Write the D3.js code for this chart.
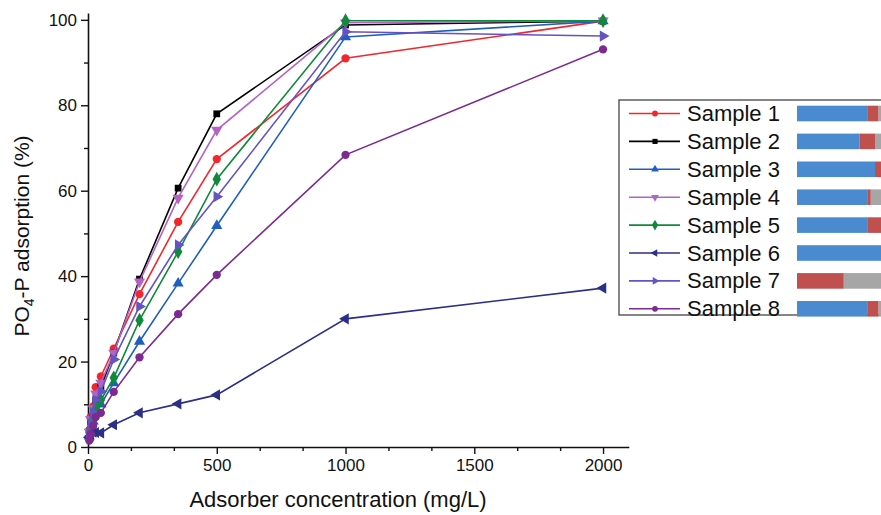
<!DOCTYPE html>
<html><head><meta charset="utf-8">
<script src="https://cdn.jsdelivr.net/npm/d3@7"></script>
<style>
html,body{margin:0;padding:0;background:#fff;}
text{font-family:"Liberation Sans",Arial,sans-serif;fill:#111;}
</style></head>
<body><svg id="c" width="881" height="515"></svg>
<script>
// ---------- data ----------
const concentrations = [5, 10, 20, 30, 50, 100, 200, 350, 500, 1000, 2000];
const sampleNames = ["Sample 1","Sample 2","Sample 3","Sample 4","Sample 5","Sample 6","Sample 7","Sample 8"];
const sample1 = [4, 7, 9.5, 14, 16.5, 23, 35.8, 52.7, 67.4, 91, 99.7];
const sample2 = [3, 6, 8, 11, 14, 22, 39.3, 60.6, 78, 98.8, 99.7];
const sample3 = [2.5, 4, 6, 8, 10, 15, 24.7, 38.3, 51.8, 96, 99.7];
const sample4 = [3.5, 6.5, 9, 12.5, 15, 22, 38.7, 58.3, 74.2, 99.3, 99.8];
const sample5 = [2.5, 4.5, 7, 9, 11, 16.2, 29.7, 45.7, 62.7, 99.8, 99.8];
const sample6 = [2.3, 2.6, 3.5, 3.4, 3.3, 5.2, 8, 10.1, 12.2, 30, 37.2];
const sample7 = [3, 5.5, 8, 11, 13, 20.5, 32.9, 47.3, 58.6, 97.2, 96.2];
const sample8 = [1.5, 3, 5, 7, 8, 12.9, 21, 31.1, 40.3, 68.4, 93.1];
const xMajorTicks = [0, 500, 1000, 1500, 2000];
const yMajorTicks = [0, 20, 40, 60, 80, 100];
// composition bars beside the legend (percent shares)
const barBlue = [58.5, 52, 65, 58.5, 58.5, 100, 0, 58.5];
const barRed  = [9.5, 13.5, 35, 3, 41.5, 0, 39, 9.5];
const barGray = [32, 34.5, 0, 38.5, 0, 0, 61, 32];

const seriesValues = [sample1,sample2,sample3,sample4,sample5,sample6,sample7,sample8];
const colors = ["#f2272c","#000000","#1f5fbf","#b463c4","#0f8a3a","#2c2f86","#6552c4","#7c2a91"];
const markers = [
  {t:d3.symbolCircle, r:0}, {t:d3.symbolSquare, r:0}, {t:d3.symbolTriangle, r:0},
  {t:d3.symbolTriangle, r:180}, {t:d3.symbolDiamond, r:0}, {t:d3.symbolTriangle, r:-90},
  {t:d3.symbolTriangle, r:90}, {t:d3.symbolCircle, r:0}
];
const barColors = ["#4a8bd0","#c0504d","#a6a6a6"];

// ---------- chart ----------
const svg = d3.select("#c");
const x = d3.scaleLinear().domain([0, 2100]).range([88, 628.8]);
const y = d3.scaleLinear().domain([0, 101.6]).range([447, 13]);

// axes
const xAxis = svg.append("g").attr("transform","translate(0,447)")
  .call(d3.axisBottom(x).tickValues(xMajorTicks).tickSize(7).tickSizeOuter(0).tickPadding(5).tickFormat(d3.format("d")));
const xMinor = svg.append("g").attr("transform","translate(0,447)")
  .call(d3.axisBottom(x).tickValues(d3.range(1,13).map(i=>i*500/3).filter(v=>v%500>1 && v%500<499)).tickSize(4).tickSizeOuter(0).tickFormat(""));
const yAxis = svg.append("g").attr("transform","translate(88,0)")
  .call(d3.axisLeft(y).tickValues(yMajorTicks).tickSize(7).tickSizeOuter(0).tickPadding(4));
const yMinor = svg.append("g").attr("transform","translate(88,0)")
  .call(d3.axisLeft(y).tickValues([10,30,50,70,90]).tickSize(4).tickSizeOuter(0).tickFormat(""));
[xAxis,xMinor,yAxis,yMinor].forEach(g=>{
  g.selectAll("path.domain").attr("stroke","#111").attr("stroke-width",1.6);
  g.selectAll(".tick line").attr("stroke","#111").attr("stroke-width",1.4);
  g.selectAll(".tick text").attr("font-size",17).attr("font-family","Liberation Sans, Arial, sans-serif").attr("fill","#111");
});
xMinor.select("path.domain").remove();
yMinor.select("path.domain").remove();

// axis titles
svg.append("text").attr("x",338).attr("y",507).attr("text-anchor","middle")
  .attr("font-size",22).text("Adsorber concentration (mg/L)");
const yt = svg.append("text").attr("transform","translate(29,236) rotate(-90)")
  .attr("text-anchor","middle").attr("font-size",21);
yt.append("tspan").text("PO");
yt.append("tspan").attr("font-size",14).attr("dy",5).text("4");
yt.append("tspan").attr("dy",-5).text("-P adsorption (%)");

// series
const line = d3.line().x(d=>x(d[0])).y(d=>y(d[1]));
seriesValues.forEach((vals,i)=>{
  const pts = concentrations.map((c,j)=>[c, vals[j]]);
  const g = svg.append("g");
  g.append("path").attr("d", line(pts)).attr("fill","none")
    .attr("stroke",colors[i]).attr("stroke-width",1.6);
  g.selectAll("path.m").data(pts).join("path").attr("class","m")
    .attr("d", d3.symbol().type(markers[i].t).size(markers[i].t===d3.symbolDiamond?62:(markers[i].t===d3.symbolSquare?46:54)))
    .attr("transform", d=>`translate(${x(d[0])},${y(d[1])}) rotate(${markers[i].r})`)
    .attr("fill",colors[i]);
});

// legend
const lg = svg.append("g");
lg.append("rect").attr("x",619).attr("y",100).attr("width",300).attr("height",215)
  .attr("fill","#fff").attr("stroke","#444").attr("stroke-width",1.3);
const rowY = i => 113.5 + i*27.9;
const bx = d3.scaleLinear().domain([0,100]).range([797, 917]);
sampleNames.forEach((name,i)=>{
  const cy = rowY(i);
  lg.append("line").attr("x1",629).attr("x2",680).attr("y1",cy).attr("y2",cy)
    .attr("stroke",colors[i]).attr("stroke-width",1.6);
  lg.append("path").attr("d", d3.symbol().type(markers[i].t).size(markers[i].t===d3.symbolDiamond?34:26))
    .attr("transform",`translate(655,${cy}) rotate(${markers[i].r})`).attr("fill",colors[i]);
  lg.append("text").attr("x",687).attr("y",cy+7.5).attr("font-size",22).text(name);
  const parts = [barBlue[i], barRed[i], barGray[i]];
  let acc = 0;
  parts.forEach((p,k)=>{
    if(p>0){
      lg.append("rect").attr("x",bx(acc)).attr("y",cy-7.8).attr("width",bx(acc+p)-bx(acc)).attr("height",15.6)
        .attr("fill",barColors[k]);
    }
    acc += p;
  });
});
</script></body></html>
